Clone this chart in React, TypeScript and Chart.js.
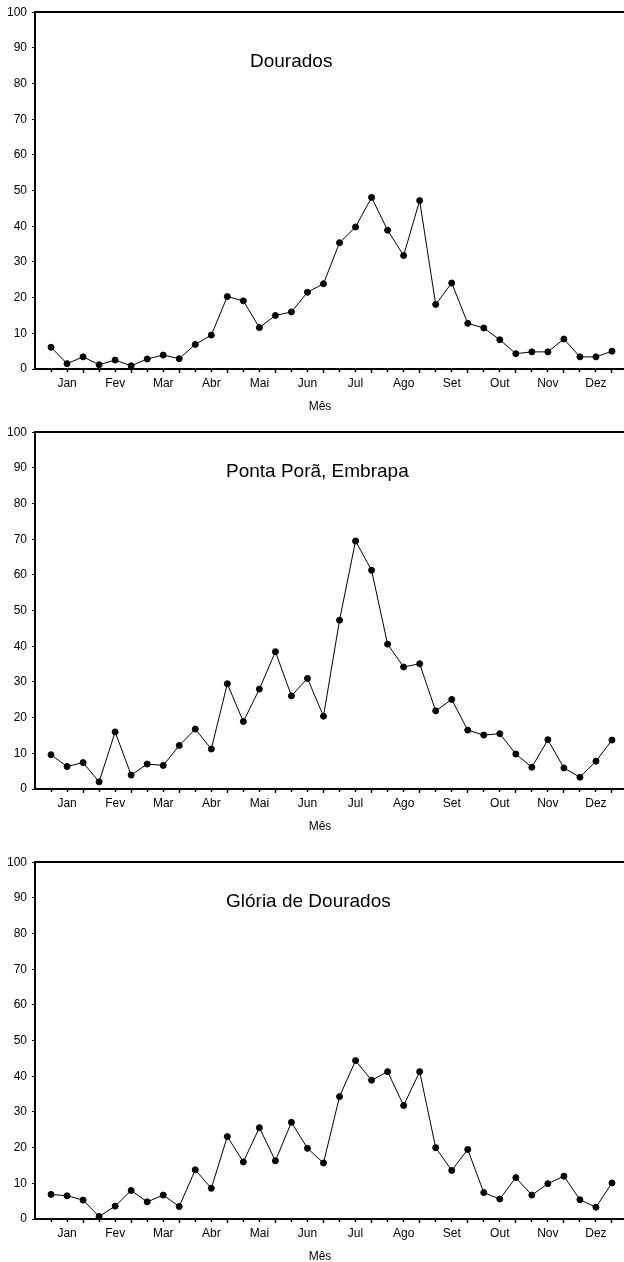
import React, { useEffect, useRef } from 'react';
import { Chart, registerables } from 'chart.js';

Chart.register(...registerables);

const months = ['Jan', 'Fev', 'Mar', 'Abr', 'Mai', 'Jun', 'Jul', 'Ago', 'Set', 'Out', 'Nov', 'Dez'];
const decendios = [1, 2, 3, 4, 5, 6, 7, 8, 9, 10, 11, 12, 13, 14, 15, 16, 17, 18, 19, 20, 21, 22, 23, 24, 25, 26, 27, 28, 29, 30, 31, 32, 33, 34, 35, 36];
const yTicks = [0, 10, 20, 30, 40, 50, 60, 70, 80, 90, 100];
const xTitle = 'Mês';

const dourados = [6.1, 1.5, 3.4, 1.2, 2.5, 0.9, 2.8, 3.9, 2.9, 6.9, 9.5, 20.3, 19.1, 11.6, 15.0, 16.0, 21.5, 23.9, 35.4, 39.8, 48.1, 38.9, 31.8, 47.2, 18.1, 24.1, 12.8, 11.5, 8.2, 4.3, 4.8, 4.8, 8.4, 3.4, 3.4, 5.0];
const pontaPora = [9.6, 6.3, 7.4, 2.0, 16.0, 3.9, 7.0, 6.6, 12.2, 16.8, 11.2, 29.5, 18.9, 28.0, 38.5, 26.1, 31.0, 20.4, 47.3, 69.5, 61.3, 40.6, 34.2, 35.1, 21.9, 25.1, 16.5, 15.1, 15.5, 9.8, 6.1, 13.8, 5.9, 3.3, 7.8, 13.7];
const gloria = [6.9, 6.5, 5.3, 0.7, 3.6, 8.0, 4.8, 6.7, 3.5, 13.8, 8.6, 23.1, 16.0, 25.6, 16.3, 27.1, 19.8, 15.7, 34.3, 44.4, 38.9, 41.3, 31.8, 41.3, 20.0, 13.6, 19.5, 7.4, 5.6, 11.6, 6.7, 9.9, 12.0, 5.4, 3.3, 10.1];

const FONT = '"Liberation Sans", Arial, Helvetica, sans-serif';

type PanelProps = {
  title: string;
  values: number[];
  titleX: number;
  titleY: number;
  top: number;
};

function Panel({ title, values, titleX, titleY, top }: PanelProps) {
  const ref = useRef<HTMLCanvasElement>(null);

  useEffect(() => {
    if (!ref.current) return;
    const titlePlugin = {
      id: 'panelTitle',
      afterDatasetsDraw(chart: any) {
        const ctx = chart.ctx;
        ctx.save();
        ctx.fillStyle = '#000';
        ctx.textBaseline = 'middle';
        ctx.font = `19px ${FONT}`;
        ctx.textAlign = 'left';
        ctx.fillText(title, titleX, titleY);
        ctx.font = `12px ${FONT}`;
        ctx.textAlign = 'center';
        ctx.fillText(xTitle, 320, 407);
        ctx.restore();
      },
    };

    const chart = new Chart(ref.current, {
      type: 'line',
      data: {
        datasets: [
          {
            data: decendios.map((d, i) => ({ x: d, y: values[i] })),
            borderColor: '#000',
            borderWidth: 1,
            pointRadius: 3,
            pointBackgroundColor: '#000',
            pointBorderColor: '#000',
            pointBorderWidth: 1,
            tension: 0,
            xAxisID: 'x',
            yAxisID: 'y',
            clip: false as any,
          },
        ],
      },
      options: {
        responsive: false,
        animation: false,
        events: [],
        devicePixelRatio: 1,
        layout: { autoPadding: false, padding: { top: 11, left: 0, right: 0, bottom: 0 } },
        plugins: {
          legend: { display: false },
          tooltip: { enabled: false },
          title: { display: false },
        },
        scales: {
          x: {
            type: 'linear',
            position: 'bottom',
            min: 0,
            max: 36.75,
            afterBuildTicks: (s: any) => {
              s.ticks = decendios.map((v) => ({ value: v }));
            },
            afterFit: (s: any) => {
              s.height = 51;
              s.paddingLeft = 0;
              s.paddingRight = 0;
            },
            ticks: {
              autoSkip: false,
              maxRotation: 0,
              minRotation: 0,
              padding: 3,
              color: '#000',
              font: { family: FONT, size: 12 },
              callback: (v: any) => {
                const i = Number(v) - 1;
                return i % 3 === 1 ? months[(i - 1) / 3] : '';
              },
            },
            grid: {
              drawOnChartArea: false,
              drawTicks: true,
              tickLength: 4,
              tickColor: '#000',
              tickWidth: 1.5,
              tickBorderDash: (ctx: any) =>
                ctx.tick && Number(ctx.tick.value) % 3 === 0 ? [] : [2, 20],
            } as any,
            border: { display: true, color: '#000', width: 2 },
            title: { display: false },
          },
          x2: {
            type: 'linear',
            position: 'top',
            min: 0,
            max: 36.75,
            ticks: { display: false },
            grid: { drawOnChartArea: false, drawTicks: false },
            border: { display: true, color: '#000', width: 2 },
            afterFit: (s: any) => {
              s.height = 0;
              s.paddingLeft = 0;
              s.paddingRight = 0;
            },
          },
          y: {
            type: 'linear',
            min: 0,
            max: 100,
            afterBuildTicks: (s: any) => {
              s.ticks = yTicks.map((v) => ({ value: v }));
            },
            afterFit: (s: any) => {
              s.width = 35;
            },
            ticks: {
              color: '#000',
              padding: 5,
              font: { family: FONT, size: 12 },
            },
            grid: {
              drawOnChartArea: false,
              drawTicks: true,
              tickLength: 3,
              tickColor: '#000',
            },
            border: { display: true, color: '#000', width: 2 },
          },
        },
      } as any,
      plugins: [titlePlugin],
    });
    return () => chart.destroy();
  }, [title, values, titleX, titleY]);

  return (
    <canvas
      ref={ref}
      width={624}
      height={420}
      style={{ position: 'absolute', left: 0, top, width: 624, height: 420 }}
    />
  );
}

export default function App() {
  return (
    <div
      style={{
        position: 'fixed',
        left: 0,
        top: 0,
        width: 624,
        height: 1262,
        overflow: 'hidden',
        background: '#fff',
      }}
    >
      <Panel title="Dourados" values={dourados} titleX={250} titleY={62} top={0} />
      <Panel title="Ponta Porã, Embrapa" values={pontaPora} titleX={226} titleY={52} top={420} />
      <Panel title="Glória de Dourados" values={gloria} titleX={226} titleY={52} top={850} />
    </div>
  );
}
